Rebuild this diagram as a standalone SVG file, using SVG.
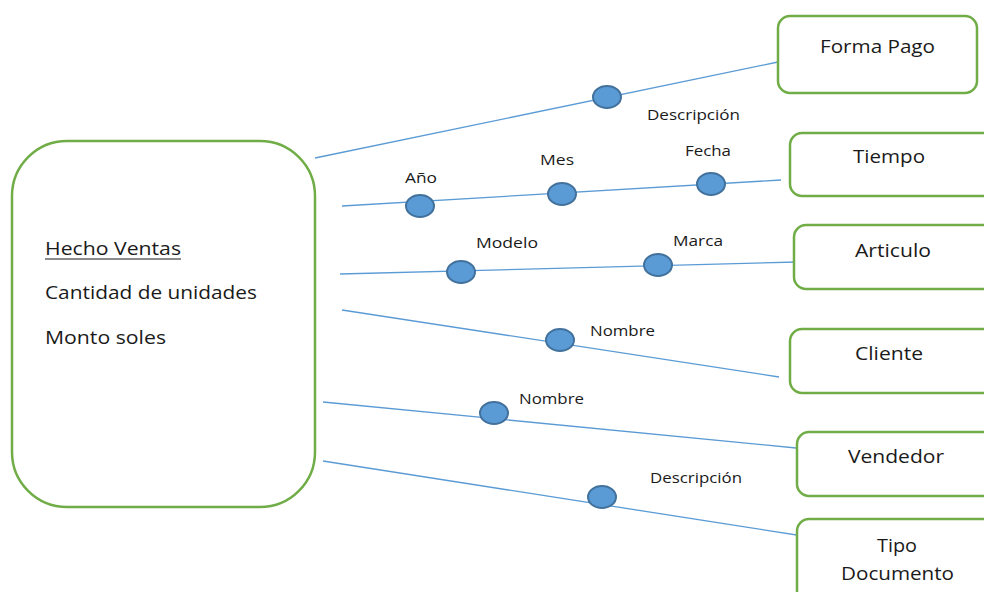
<svg xmlns="http://www.w3.org/2000/svg" width="984" height="592" viewBox="0 0 984 592">
<style>
.box{fill:#fff;stroke:#70AD47;stroke-width:2.5}
.ln{stroke:#5B9BD5;stroke-width:1.3;fill:none}
.dot{fill:#5B9BD5;stroke:#41719C;stroke-width:2}
.t{font-family:"Open Sans","Liberation Sans",sans-serif;font-size:18.5px;fill:#1a1a1a}
.s{font-family:"Open Sans","Liberation Sans",sans-serif;font-size:14.5px;fill:#1a1a1a}
</style>
<rect width="984" height="592" fill="#fff"/>
<g id="connectors">
<line class="ln" x1="315" y1="158" x2="778" y2="62"/>
<line class="ln" x1="342" y1="206" x2="781" y2="180"/>
<line class="ln" x1="340" y1="274" x2="797" y2="262"/>
<line class="ln" x1="342" y1="310" x2="779" y2="377"/>
<line class="ln" x1="323" y1="402" x2="796" y2="448"/>
<line class="ln" x1="323" y1="461" x2="803" y2="536"/>
<ellipse class="dot" cx="607" cy="97" rx="14" ry="11"/>
<ellipse class="dot" cx="420" cy="206" rx="14" ry="11"/>
<ellipse class="dot" cx="562" cy="194" rx="14" ry="11"/>
<ellipse class="dot" cx="711" cy="184" rx="14" ry="11"/>
<ellipse class="dot" cx="461" cy="272" rx="14" ry="11"/>
<ellipse class="dot" cx="658" cy="265" rx="14" ry="11"/>
<ellipse class="dot" cx="560" cy="340" rx="14" ry="11"/>
<ellipse class="dot" cx="494" cy="413" rx="14" ry="11"/>
<ellipse class="dot" cx="602" cy="497" rx="14" ry="11"/>
<text class="s" x="647" y="120" textLength="93" lengthAdjust="spacingAndGlyphs">Descripción</text>
<text class="s" x="405" y="183" textLength="32" lengthAdjust="spacingAndGlyphs">Año</text>
<text class="s" x="540" y="165" textLength="34" lengthAdjust="spacingAndGlyphs">Mes</text>
<text class="s" x="685" y="156" textLength="46" lengthAdjust="spacingAndGlyphs">Fecha</text>
<text class="s" x="476" y="248" textLength="62" lengthAdjust="spacingAndGlyphs">Modelo</text>
<text class="s" x="673" y="246" textLength="50" lengthAdjust="spacingAndGlyphs">Marca</text>
<text class="s" x="590" y="336" textLength="65" lengthAdjust="spacingAndGlyphs">Nombre</text>
<text class="s" x="519" y="404" textLength="65" lengthAdjust="spacingAndGlyphs">Nombre</text>
<text class="s" x="650" y="483" textLength="92" lengthAdjust="spacingAndGlyphs">Descripción</text>
</g>
<g id="hecho-ventas">
<rect class="box" x="12" y="141" width="303" height="366" rx="55" ry="55"/>
<text class="t" x="45" y="255" textLength="136" lengthAdjust="spacingAndGlyphs">Hecho Ventas</text>
<line x1="45" y1="259" x2="181" y2="259" stroke="#1a1a1a" stroke-width="1.2"/>
<text class="t" x="45" y="299" textLength="212" lengthAdjust="spacingAndGlyphs">Cantidad de unidades</text>
<text class="t" x="45" y="344" textLength="121" lengthAdjust="spacingAndGlyphs">Monto soles</text>
</g>
<g id="forma-pago">
<rect class="box" x="778" y="16" width="199" height="77" rx="12"/>
<text class="t" x="820" y="53" textLength="115" lengthAdjust="spacingAndGlyphs">Forma Pago</text>
</g>
<g id="tiempo">
<rect class="box" x="790" y="133" width="206" height="63" rx="12"/>
<text class="t" x="853" y="163" textLength="72" lengthAdjust="spacingAndGlyphs">Tiempo</text>
</g>
<g id="articulo">
<rect class="box" x="794" y="225" width="202" height="64" rx="12"/>
<text class="t" x="855" y="257" textLength="76" lengthAdjust="spacingAndGlyphs">Articulo</text>
</g>
<g id="cliente">
<rect class="box" x="790" y="329" width="206" height="64" rx="12"/>
<text class="t" x="855" y="360" textLength="68" lengthAdjust="spacingAndGlyphs">Cliente</text>
</g>
<g id="vendedor">
<rect class="box" x="797" y="432" width="199" height="64" rx="12"/>
<text class="t" x="848" y="463" textLength="96" lengthAdjust="spacingAndGlyphs">Vendedor</text>
</g>
<g id="tipo-documento">
<rect class="box" x="797" y="519" width="199" height="90" rx="12"/>
<text class="t" x="877" y="552" textLength="40" lengthAdjust="spacingAndGlyphs">Tipo</text>
<text class="t" x="841" y="580" textLength="113" lengthAdjust="spacingAndGlyphs">Documento</text>
</g>
</svg>
